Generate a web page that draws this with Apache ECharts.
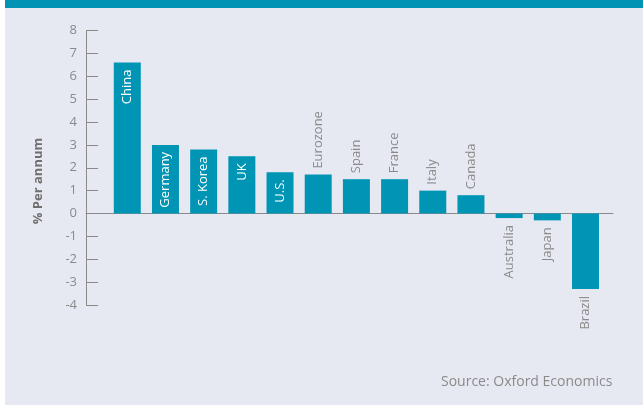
<!DOCTYPE html>
<html><head><meta charset="utf-8">
<script src="https://cdn.jsdelivr.net/npm/echarts@6/dist/echarts.min.js"></script>
<style>html,body{margin:0;padding:0;background:#fff;}#c{width:643px;height:405px;}</style>
</head><body><div id="c"></div>
<script>
const categories = ['China','Germany','S. Korea','UK','U.S.','Eurozone','Spain','France','Italy','Canada','Australia','Japan','Brazil'];
const growth = [6.6, 3.0, 2.8, 2.5, 1.8, 1.7, 1.5, 1.5, 1.0, 0.8, -0.2, -0.3, -3.3];
const labelInside = ['China','Germany','S. Korea','UK','U.S.'];
const yMin = -4, yMax = 8, yStep = 1;
const axisName = '% Per annum';
const sourceText = 'Source: Oxford Economics';

const teal = '#0095b4';
const gray = '#8a8a8a';
const font = 'Open Sans';

const data = categories.map((c, i) => {
  const v = growth[i];
  let label;
  if (labelInside.includes(c)) {
    label = {show: true, position: 'insideTop', rotate: 90, align: 'right', verticalAlign: 'middle', distance: 7, color: '#fff'};
  } else if (v >= 0) {
    label = {show: true, position: 'top', rotate: 90, align: 'left', verticalAlign: 'middle', distance: 6, color: gray};
  } else {
    label = {show: true, position: 'bottom', rotate: 90, align: 'right', verticalAlign: 'middle', distance: 7, color: gray};
  }
  return {value: v, label};
});

const chart = echarts.init(document.getElementById('c'), null, {renderer: 'canvas'});
chart.setOption({
  backgroundColor: '#ffffff',
  animation: false,
  textStyle: {fontFamily: font},
  graphic: [
    {type: 'rect', z: -10, shape: {x: 5, y: 0, width: 638, height: 405}, style: {fill: '#e7e9f2'}, silent: true},
    {type: 'rect', z: -9, shape: {x: 5, y: 0, width: 638, height: 8}, style: {fill: '#0093b3'}, silent: true},
    {type: 'text', left: 441, top: 375, style: {text: sourceText, fill: gray, font: '14px "Open Sans"'}},
    {type: 'text', x: 38, y: 181, rotation: Math.PI / 2, style: {text: axisName, fill: '#6f6f6f', font: 'bold 13px "Open Sans"', align: 'center', verticalAlign: 'middle'}}
  ],
  grid: [
    {left: 108.2, right: 38.4, top: 30.5, bottom: 100},
    {left: 86, right: 30, top: 30.5, bottom: 100}
  ],
  xAxis: [
    {type: 'category', gridIndex: 0, data: categories, axisLine: {show: false}, axisTick: {show: false}, axisLabel: {show: false}},
    {type: 'value', gridIndex: 1, min: 0, max: 1, axisLine: {show: true, onZero: true, lineStyle: {color: gray, width: 1}}, axisTick: {show: false}, axisLabel: {show: false}, splitLine: {show: false}}
  ],
  yAxis: [
    {type: 'value', gridIndex: 0, min: yMin, max: yMax, interval: yStep, axisLine: {show: false}, axisTick: {show: false}, axisLabel: {show: false}, splitLine: {show: false}},
    {type: 'value', gridIndex: 1, min: yMin, max: yMax, interval: yStep,
      axisLine: {show: true, onZero: false, lineStyle: {color: gray, width: 1}},
      axisTick: {show: true, inside: true, length: 12, lineStyle: {color: gray}},
      axisLabel: {color: gray, fontSize: 13, margin: 9, fontFamily: font},
      splitLine: {show: false}}
  ],
  series: [{
    type: 'bar', xAxisIndex: 0, yAxisIndex: 0, data: data, barWidth: 27,
    itemStyle: {color: teal},
    label: {fontSize: 13, fontFamily: font, formatter: '{b}'}
  }]
});
</script></body></html>
